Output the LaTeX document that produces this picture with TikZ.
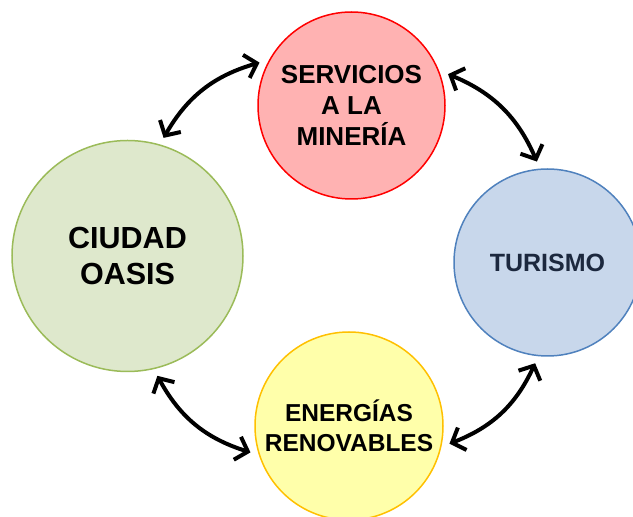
\documentclass[tikz,border=0pt]{standalone}
\usepackage{fontspec}
\setmainfont{Liberation Sans}
\usetikzlibrary{arrows.meta}
\definecolor{minfill}{RGB}{255,178,178}
\definecolor{minline}{RGB}{255,0,0}
\definecolor{oasisfill}{RGB}{222,232,204}
\definecolor{oasisline}{RGB}{155,187,89}
\definecolor{turfill}{RGB}{200,215,235}
\definecolor{turline}{RGB}{79,129,189}
\definecolor{turtext}{RGB}{28,40,62}
\definecolor{enerfill}{RGB}{255,255,170}
\definecolor{enerline}{RGB}{255,192,0}

\begin{document}
\begin{tikzpicture}[
    x=1pt, y=1pt,
    circ/.style={circle, draw, line width=1.5pt, inner sep=0pt, outer sep=8pt, align=center},
    arrow/.style={{Straight Barb[length=11pt,width=24pt]}-{Straight Barb[length=11pt,width=24pt]}, line width=4pt, black}
]
\useasboundingbox (0,0) rectangle (633,517);

% Servicios a la mineria
\node[circ, fill=minfill, draw=minline, minimum size=187pt,
      font=\bfseries\fontsize{26}{31}\selectfont] (serv) at (351.5,411.5) {SERVICIOS\\A LA\\MINERÍA};

% Ciudad oasis
\node[circ, fill=oasisfill, draw=oasisline, minimum size=231pt,
      font=\bfseries\fontsize{30.5}{36}\selectfont] (oasis) at (127.5,261) {CIUDAD\\OASIS};

% Turismo
\node[circ, fill=turfill, draw=turline, minimum size=187pt, text=turtext,
      font=\bfseries\fontsize{25}{30}\selectfont] (turismo) at (547.5,254.5) {TURISMO};

% Energias renovables
\node[circ, fill=enerfill, draw=enerline, minimum size=188pt,
      font=\bfseries\fontsize{24.5}{30}\selectfont] (energia) at (349,91) {ENERGÍAS\\RENOVABLES};

% Arrows
\draw[arrow] (oasis.73.8) to[bend left=22] (serv.155);
\draw[arrow] (serv.18) to[bend left=22] (turismo.96);
\draw[arrow] (energia.195) to[bend left=22] (oasis.-76);
\draw[arrow] (turismo.263) to[bend left=22] (energia.-10);

\end{tikzpicture}
\end{document}
